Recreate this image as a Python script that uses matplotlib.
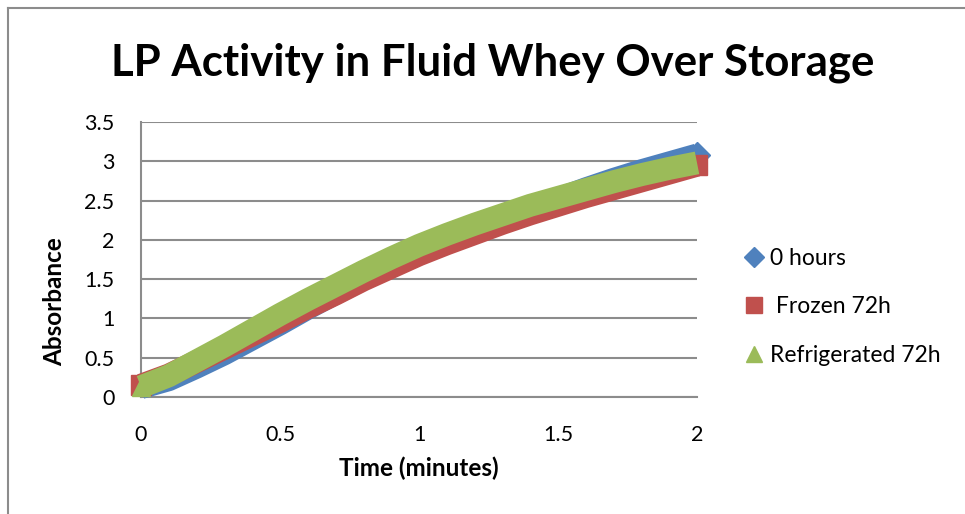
import matplotlib
matplotlib.use('Agg')
import matplotlib.pyplot as plt
from matplotlib.lines import Line2D

# Absorbance readings over two minutes for the three whey samples
time_min = [0, 0.1, 0.2, 0.3, 0.4, 0.5, 0.6, 0.7, 0.8, 0.9, 1.0,
            1.1, 1.2, 1.3, 1.4, 1.5, 1.6, 1.7, 1.8, 1.9, 2.0]
abs_0h = [0.12, 0.22, 0.38, 0.55, 0.74, 0.93, 1.13, 1.32, 1.50, 1.67, 1.84,
          1.99, 2.13, 2.27, 2.40, 2.52, 2.65, 2.77, 2.88, 2.98, 3.08]
abs_frozen = [0.15, 0.28, 0.45, 0.62, 0.79, 0.96, 1.14, 1.31, 1.49, 1.65, 1.81,
              1.95, 2.08, 2.21, 2.33, 2.44, 2.55, 2.65, 2.75, 2.85, 2.95]
abs_refrig = [0.13, 0.27, 0.46, 0.65, 0.85, 1.05, 1.24, 1.42, 1.60, 1.77, 1.93,
              2.07, 2.20, 2.32, 2.44, 2.54, 2.64, 2.74, 2.83, 2.91, 2.98]

series_labels = ['0 hours', ' Frozen 72h', 'Refrigerated 72h']
x_ticks = [0, 0.5, 1, 1.5, 2]
x_tick_labels = ['0', '0.5', '1', '1.5', '2']
y_ticks = [0, 0.5, 1, 1.5, 2, 2.5, 3, 3.5]
y_tick_labels = ['0', '0.5', '1', '1.5', '2', '2.5', '3', '3.5']

plt.rcParams['font.family'] = ['Lato', 'DejaVu Sans']

blue = '#4F81BD'
red = '#C0504D'
green = '#9BBB59'
grid_gray = '#8C8C8C'

fig = plt.figure(figsize=(9.65, 5.14), dpi=100)
ax = fig.add_axes([0.1461, 0.2276, 0.5762, 0.535])

# very heavy lines, the way the workbook had them
lw = 16.5
ax.plot(time_min, abs_0h, color=blue, lw=lw, solid_capstyle='butt',
        solid_joinstyle='round', marker='D', ms=13, markevery=[-1],
        clip_on=False, zorder=3)
ax.plot(time_min, abs_frozen, color=red, lw=lw, solid_capstyle='butt',
        solid_joinstyle='round', marker='s', ms=14, markevery=[0, -1],
        clip_on=False, zorder=4)
ax.plot(time_min, abs_refrig, color=green, lw=lw, solid_capstyle='butt',
        solid_joinstyle='round', marker='^', ms=13, markevery=[0],
        clip_on=False, zorder=5)

ax.set_xlim(0, 2)
ax.set_ylim(0, 3.5)
ax.set_xticks(x_ticks)
ax.set_xticklabels(x_tick_labels)
ax.set_yticks(y_ticks)
ax.set_yticklabels(y_tick_labels)
ax.tick_params(axis='both', length=0, labelsize=15.5)
ax.tick_params(axis='y', pad=19)
ax.tick_params(axis='x', pad=20)

ax.yaxis.grid(True, color=grid_gray, lw=1.5)
ax.set_axisbelow(True)
for side in ['top', 'right']:
    ax.spines[side].set_visible(False)
ax.spines['left'].set_color(grid_gray)
ax.spines['left'].set_linewidth(1.5)
ax.spines['bottom'].set_color(grid_gray)
ax.spines['bottom'].set_linewidth(1.5)

fig.text(0.511, 0.877, 'LP Activity in Fluid Whey Over Storage',
         ha='center', va='center', fontsize=31.5, fontweight='bold')
fig.text(0.057, 0.4125, 'Absorbance', rotation=90, ha='center', va='center',
         fontsize=17.5, fontweight='bold')
fig.text(0.434, 0.0895, 'Time (minutes)', ha='center', va='center',
         fontsize=17.5, fontweight='bold')

handles = [
    Line2D([], [], color=blue, marker='D', ms=10, lw=0),
    Line2D([], [], color=red, marker='s', ms=11, lw=0),
    Line2D([], [], color=green, marker='^', ms=12, lw=0),
]
ax.legend(handles, series_labels, loc='center left',
          bbox_to_anchor=(0.772, 0.403), bbox_transform=fig.transFigure,
          frameon=False, fontsize=16.5, handlelength=0.8, handletextpad=0.3,
          labelspacing=1.2, borderpad=0, borderaxespad=0)

# chart border along the top and left edges
fig.add_artist(Line2D([0.0083, 1.0], [0.984, 0.984], color=grid_gray, lw=1.5))
fig.add_artist(Line2D([0.0083, 0.0083], [0.0, 0.984], color=grid_gray, lw=1.5))

fig.savefig('out.png', dpi=100)
